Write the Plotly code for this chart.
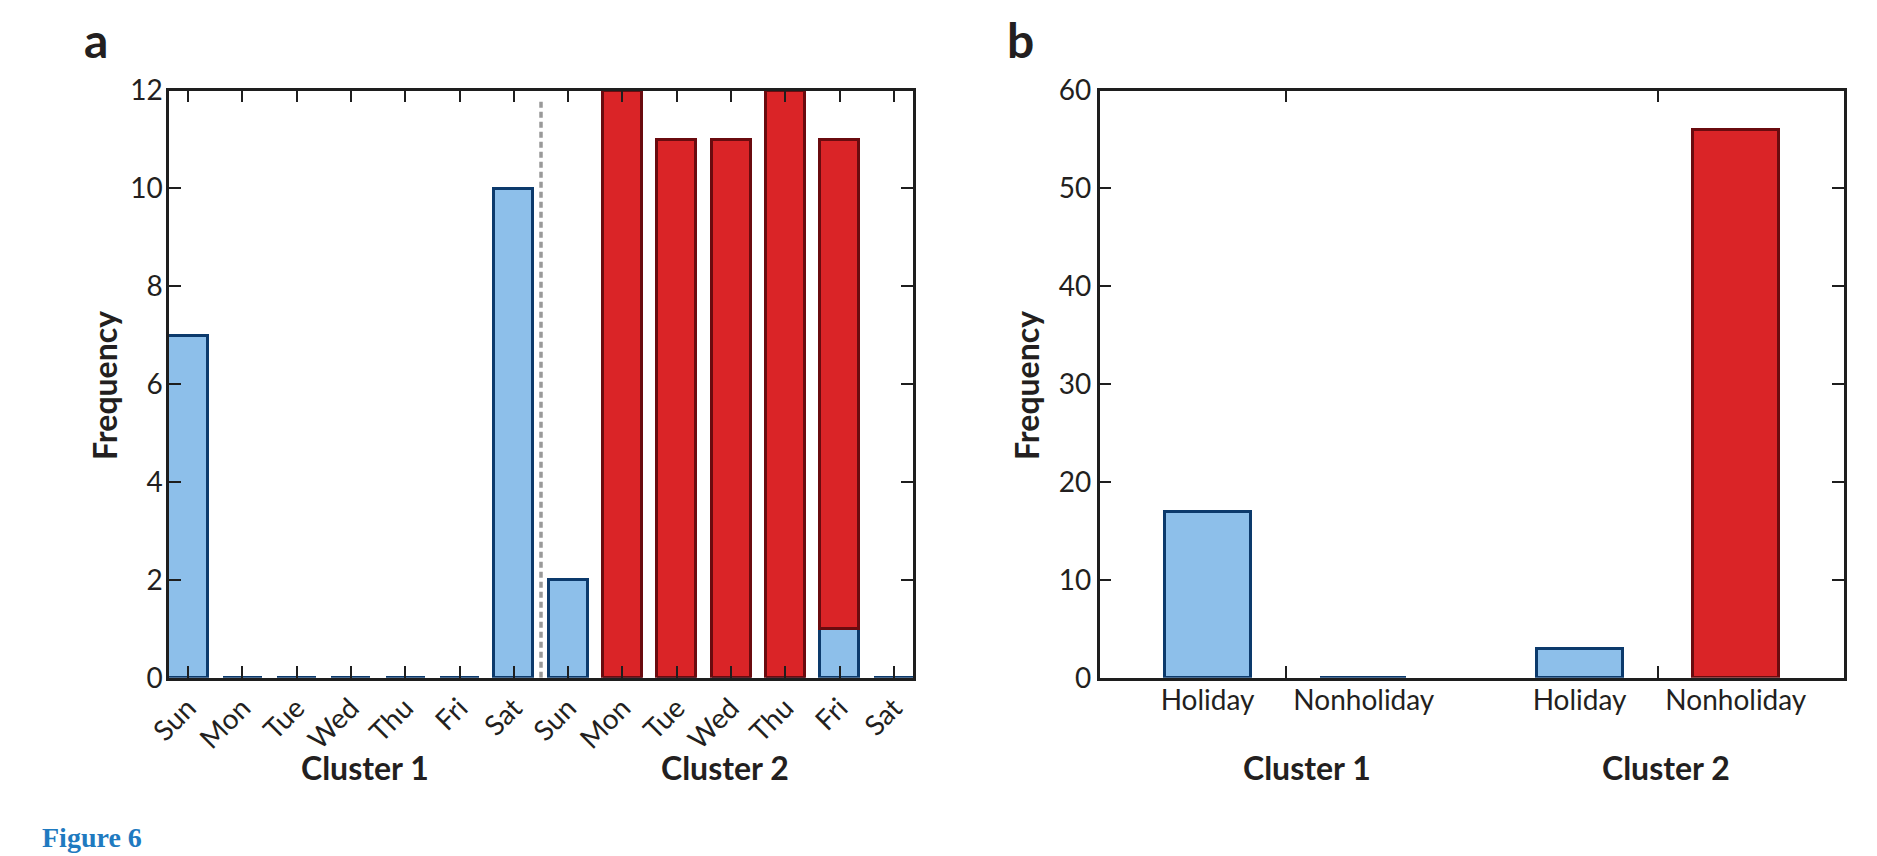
import plotly.graph_objects as go

# ---------------- data ----------------
days = ["Sun", "Mon", "Tue", "Wed", "Thu", "Fri", "Sat"]
a_labels = days + days                      # Cluster 1 then Cluster 2
a_blue = [7, 0, 0, 0, 0, 0, 10, 2, 0, 0, 0, 0, 1, 0]
a_red = [None, None, None, None, None, None, None, None, 12, 11, 11, 12, 10, None]

b_groups = ["Cluster 1", "Cluster 2"]
b_types = ["Holiday", "Nonholiday"]
b_blue = {"Cluster 1": {"Holiday": 17, "Nonholiday": 0}, "Cluster 2": {"Holiday": 3}}
b_red = {"Cluster 2": {"Nonholiday": 56}}

# ---------------- style ----------------
W, H = 1877, 856
OX, OY = 8, 8          # page body margin offset
BLUE_FILL = "#8dbfea"
BLUE_LINE = "#0c3a6c"
RED_FILL = "#da2427"
RED_LINE = "#6a0b0f"
AX = "#1e1e1e"
TXT = "#231f20"
FONT = "Lato"
TICKFS = 28
BOLDFS = 32

def px(x):
    return (x - OX) / W

def py(y):
    return 1 - (y - OY) / H

xa_dom = [px(169), px(913)]
xb_dom = [px(1099.7), px(1843.7)]
y_dom = [py(677.8), py(90.5)]

fig = go.Figure()

xa = list(range(len(a_labels)))
fig.add_trace(go.Bar(x=xa, y=a_blue, width=0.72, xaxis="x", yaxis="y",
                     marker=dict(color=BLUE_FILL, line=dict(color=BLUE_LINE, width=2.8)),
                     showlegend=False, hoverinfo="x+y"))
fig.add_trace(go.Bar(x=xa, y=a_red, width=0.72, xaxis="x", yaxis="y",
                     marker=dict(color=RED_FILL, line=dict(color=RED_LINE, width=2.8)),
                     showlegend=False, hoverinfo="x+y"))

# panel b: groups at 1, 2 with bars offset either side
OFF = 0.21
b_pos, b_text = [], []
bx_blue, by_blue, bx_red, by_red = [], [], [], []
for gi, g in enumerate(b_groups):
    for ti, t in enumerate(b_types):
        pos = gi + 1 + (OFF if ti else -OFF)
        b_pos.append(pos)
        b_text.append(t)
        if t in b_blue.get(g, {}):
            bx_blue.append(pos); by_blue.append(b_blue[g][t])
        if t in b_red.get(g, {}):
            bx_red.append(pos); by_red.append(b_red[g][t])

fig.add_trace(go.Bar(x=bx_blue, y=by_blue, width=0.231, xaxis="x2", yaxis="y2",
                     marker=dict(color=BLUE_FILL, line=dict(color=BLUE_LINE, width=2.8)),
                     showlegend=False))
fig.add_trace(go.Bar(x=bx_red, y=by_red, width=0.231, xaxis="x2", yaxis="y2",
                     marker=dict(color=RED_FILL, line=dict(color=RED_LINE, width=2.8)),
                     showlegend=False))

axis_common = dict(showline=True, linecolor=AX, linewidth=2.5, mirror="ticks",
                   ticks="inside", ticklen=12, tickwidth=2, tickcolor=AX,
                   showgrid=False, zeroline=False, automargin=False,
                   tickfont=dict(family=FONT, size=TICKFS, color=TXT))

fig.update_layout(
    template="none",
    width=W, height=H, autosize=False,
    margin=dict(l=0, r=0, t=0, b=0, pad=0),
    paper_bgcolor="white", plot_bgcolor="white",
    barmode="stack", bargap=0,
    xaxis=dict(domain=xa_dom, anchor="y", range=[-0.35, 13.35],
               tickvals=xa, ticktext=a_labels, tickangle=-45, **axis_common),
    yaxis=dict(domain=y_dom, anchor="x", range=[0, 12], tickvals=[0, 2, 4, 6, 8, 10, 12],
               ticklabelstandoff=-2, **axis_common),
    xaxis2=dict(domain=xb_dom, anchor="y2", range=[0.5, 2.5],
                tickvals=b_pos, ticktext=b_text, ticklabelstandoff=-4,
                **{**axis_common, "ticks": "", "ticklen": 0},
                minor=dict(tickvals=[1, 2], ticks="inside", ticklen=12, tickwidth=2, tickcolor=AX)),
    yaxis2=dict(domain=y_dom, anchor="x2", range=[0, 60], tickvals=[0, 10, 20, 30, 40, 50, 60],
                ticklabelstandoff=0, **axis_common),
)

# dashed separator between clusters in panel a
fig.add_shape(type="line", xref="x", yref="y", x0=6.5, x1=6.5, y0=0, y1=11.8,
              line=dict(color="#999999", width=3.5, dash="6px,4px"), layer="above")

ann = []
def txt(text, x, y, size, bold=True, angle=0, xanchor="center", yanchor="middle",
        family=FONT, color=TXT):
    t = f"<b>{text}</b>" if bold else text
    ann.append(dict(text=t, x=px(x), y=py(y), xref="paper", yref="paper",
                    showarrow=False, textangle=angle, xanchor=xanchor, yanchor=yanchor,
                    font=dict(family=family, size=size, color=color)))

txt("a", 82, 9, 48, xanchor="left", yanchor="top")
txt("b", 1005, 9, 48, xanchor="left", yanchor="top")
txt("Frequency", 104, 386, BOLDFS, angle=-90)
txt("Frequency", 1026, 386, BOLDFS, angle=-90)
txt("Cluster 1", 365, 767, BOLDFS)
txt("Cluster 2", 724.5, 767, BOLDFS)
txt("Cluster 1", 1307, 767, BOLDFS)
txt("Cluster 2", 1666, 767, BOLDFS)
txt("Figure 6", 40, 837, 28, xanchor="left", family="Liberation Serif", color="#1f7ac0")
fig.update_layout(annotations=ann)

fig.write_html("out.html")
